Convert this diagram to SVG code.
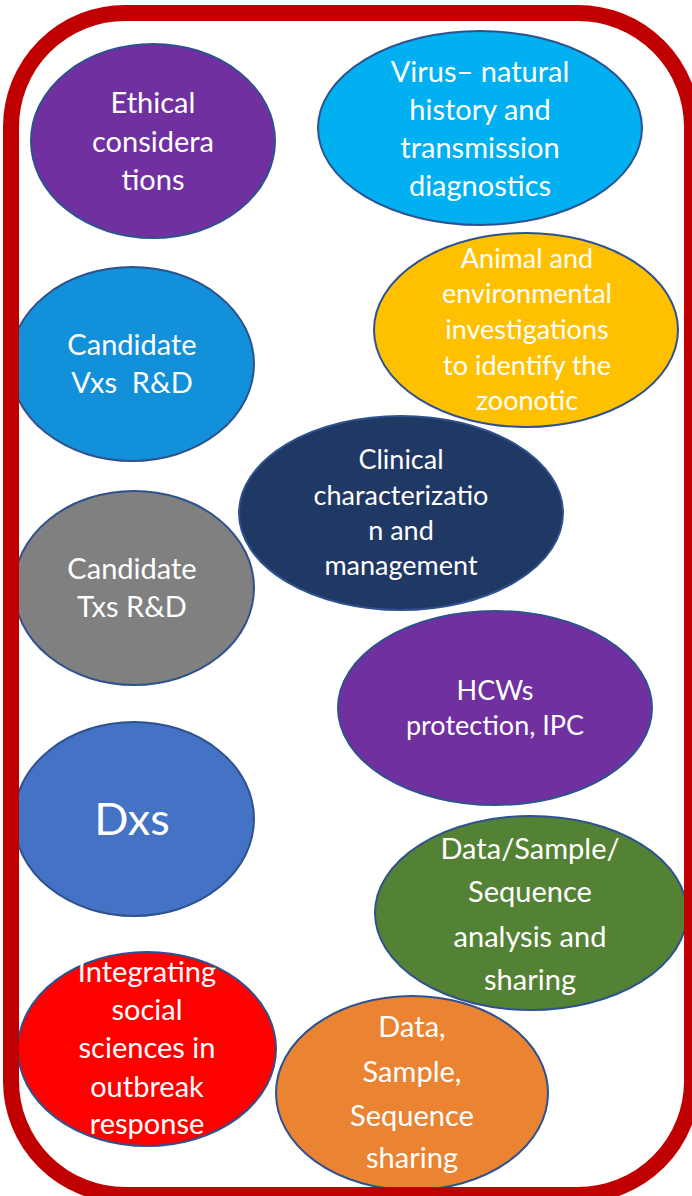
<svg xmlns="http://www.w3.org/2000/svg" width="692" height="1196" viewBox="0 0 692 1196">
  <style>
    .node { stroke: #2F528F; stroke-width: 2; }
    .lbl { font-family: Lato, "Open Sans", "Liberation Sans", sans-serif; fill: #FFFFFF; text-anchor: middle; font-size: 29px; }
    .sm { font-size: 27px; }
    .frame { fill: none; stroke: #C00000; stroke-width: 16; }
  </style>
  <rect x="0" y="0" width="692" height="1196" fill="#FFFFFF"/>

  <g id="ethical">
    <ellipse class="node" cx="153" cy="141" rx="122" ry="97" fill="#7030A0"/>
    <text class="lbl"><tspan x="153" y="113">Ethical</tspan><tspan x="153" y="152">considera</tspan><tspan x="153" y="190">tions</tspan></text>
  </g>

  <g id="virus">
    <ellipse class="node" cx="480" cy="128" rx="162" ry="97" fill="#00B0F0"/>
    <text class="lbl"><tspan x="480" y="82">Virus– natural</tspan><tspan x="480" y="120">history and</tspan><tspan x="480" y="158">transmission</tspan><tspan x="480" y="196">diagnostics</tspan></text>
  </g>

  <g id="animal">
    <ellipse class="node" cx="526" cy="330" rx="152" ry="97" fill="#FFC000"/>
    <text class="lbl sm"><tspan x="527" y="268">Animal and</tspan><tspan x="527" y="303">environmental</tspan><tspan x="527" y="339">investigations</tspan><tspan x="527" y="375">to identify the</tspan><tspan x="527" y="410">zoonotic</tspan></text>
  </g>

  <g id="clinical">
    <ellipse class="node" cx="401" cy="513" rx="162" ry="97" fill="#203864"/>
    <text class="lbl sm"><tspan x="401" y="469">Clinical</tspan><tspan x="401" y="505">characterizatio</tspan><tspan x="401" y="540">n and</tspan><tspan x="401" y="575">management</tspan></text>
  </g>

  <g id="vaccines">
    <ellipse class="node" cx="132" cy="364" rx="122" ry="97" fill="#1290D9"/>
    <text class="lbl"><tspan x="132" y="355">Candidate</tspan><tspan x="132" y="393">Vxs&#160; R&amp;D</tspan></text>
  </g>

  <g id="therapeutics">
    <ellipse class="node" cx="134" cy="588" rx="120" ry="97" fill="#808080"/>
    <text class="lbl"><tspan x="132" y="579">Candidate</tspan><tspan x="132" y="617">Txs R&amp;D</tspan></text>
  </g>

  <g id="hcws">
    <ellipse class="node" cx="495" cy="708" rx="157" ry="97" fill="#7030A0"/>
    <text class="lbl sm"><tspan x="495" y="700">HCWs</tspan><tspan x="495" y="735">protection, IPC</tspan></text>
  </g>

  <g id="diagnostics">
    <ellipse class="node" cx="134" cy="819" rx="120" ry="97" fill="#4472C4"/>
    <text class="lbl" style="font-size:45px" x="132" y="835">Dxs</text>
  </g>

  <g id="data-analysis">
    <ellipse class="node" cx="531" cy="913" rx="156" ry="97" fill="#548235"/>
    <text class="lbl"><tspan x="530" y="859">Data/Sample/</tspan><tspan x="530" y="902">Sequence</tspan><tspan x="530" y="947">analysis and</tspan><tspan x="530" y="990">sharing</tspan></text>
  </g>

  <g id="social-sciences">
    <ellipse class="node" cx="147" cy="1049" rx="129" ry="97" fill="#FF0000"/>
    <text class="lbl"><tspan x="147" y="982">Integrating</tspan><tspan x="147" y="1020">social</tspan><tspan x="147" y="1058">sciences in</tspan><tspan x="147" y="1097">outbreak</tspan><tspan x="147" y="1134">response</tspan></text>
  </g>

  <g id="data-sharing">
    <ellipse class="node" cx="412" cy="1093" rx="136" ry="97" fill="#EA8433"/>
    <text class="lbl"><tspan x="412" y="1037">Data,</tspan><tspan x="412" y="1082">Sample,</tspan><tspan x="412" y="1126">Sequence</tspan><tspan x="412" y="1168">sharing</tspan></text>
  </g>

  <!-- rounded outer border, drawn over the bubbles -->
  <g id="border">
    <rect class="frame" x="11" y="13" width="681" height="1182" rx="114" ry="114"/>
  </g>
</svg>
